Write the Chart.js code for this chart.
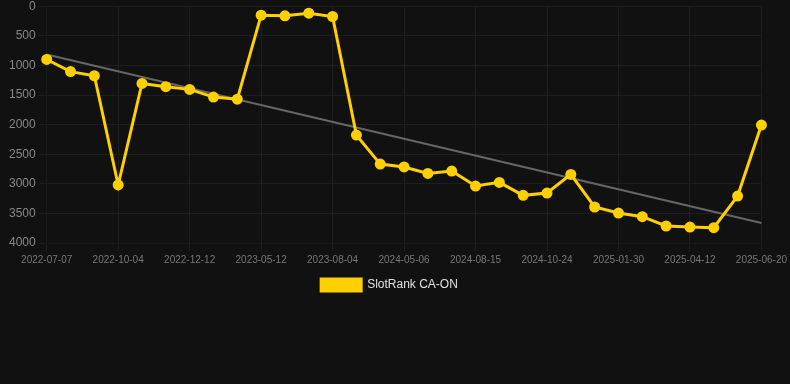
<!DOCTYPE html>
<html>
<head>
<meta charset="utf-8">
<script src="https://cdn.jsdelivr.net/npm/chart.js@4"></script>
<style>
  html, body { margin: 0; padding: 0; background: #111111; overflow: hidden; }
  #wrap { position: relative; width: 790px; height: 305px; margin-top: -4px; }
</style>
</head>
<body>
<div id="wrap"><canvas id="rank-chart"></canvas></div>
<script>
// dates of the rank snapshots (only every third one is shown on the axis)
const dates = [
  '2022-07-07', '2022-08-06', '2022-09-05', '2022-10-04', '2022-11-02', '2022-11-22',
  '2022-12-12', '2023-02-10', '2023-03-29', '2023-05-12', '2023-06-08', '2023-07-06',
  '2023-08-04', '2023-11-15', '2024-02-20', '2024-05-06', '2024-06-10', '2024-07-12',
  '2024-08-15', '2024-09-10', '2024-10-02', '2024-10-24', '2024-11-28', '2024-12-30',
  '2025-01-30', '2025-02-25', '2025-03-20', '2025-04-12', '2025-05-05', '2025-05-28',
  '2025-06-20',
];

// SlotRank CA-ON positions
const rankValues = [
  900, 1105, 1175, 3020, 1305, 1360, 1405, 1535, 1570, 152, 163, 118,
  174, 2177, 2667, 2715, 2824, 2785, 3038, 2976, 3195, 3156, 2841, 3392,
  3494, 3556, 3713, 3730, 3741, 3207, 2008,
];

// trend line, read at its two ends
const trendValues = dates.map(() => null);
trendValues[0] = 815;
trendValues[dates.length - 1] = 3662;

const yTicks = { min: 0, max: 4000, step: 500 };

const ctx = document.getElementById('rank-chart').getContext('2d');

new Chart(ctx, {
  type: 'line',
  data: {
    labels: dates,
    datasets: [
      {
        label: 'SlotRank CA-ON',
        data: rankValues,
        borderColor: '#ffd000',
        backgroundColor: '#ffd000',
        borderWidth: 3,
        pointRadius: 4,
        pointHoverRadius: 5,
        tension: 0,
      },
      {
        label: 'trend',
        data: trendValues,
        borderColor: '#666666',
        borderWidth: 2,
        pointRadius: 0,
        spanGaps: true,
      },
    ],
  },
  options: {
    responsive: true,
    maintainAspectRatio: false,
    animation: false,
    layout: { padding: { left: 6, right: 17 } },
    plugins: {
      legend: {
        position: 'bottom',
        labels: {
          color: '#e0e0e0',
          boxWidth: 40,
          boxHeight: 12,
          font: { family: 'Liberation Sans, Arial', size: 12 },
          filter: (item) => item.text !== 'trend',
        },
      },
      tooltip: { enabled: false },
    },
    scales: {
      x: {
        grid: { color: '#1e1e1e' },
        ticks: {
          color: '#777777',
          font: { family: 'Liberation Sans, Arial', size: 10 },
          maxRotation: 0,
          autoSkip: true,
          maxTicksLimit: 11,
        },
      },
      y: {
        reverse: true,
        min: yTicks.min,
        max: yTicks.max,
        grid: { color: '#1e1e1e' },
        ticks: {
          stepSize: yTicks.step,
          color: '#888888',
          font: { family: 'Liberation Sans, Arial', size: 12 },
          callback: (value) => String(value),
        },
      },
    },
  },
});
</script>
</body>
</html>
